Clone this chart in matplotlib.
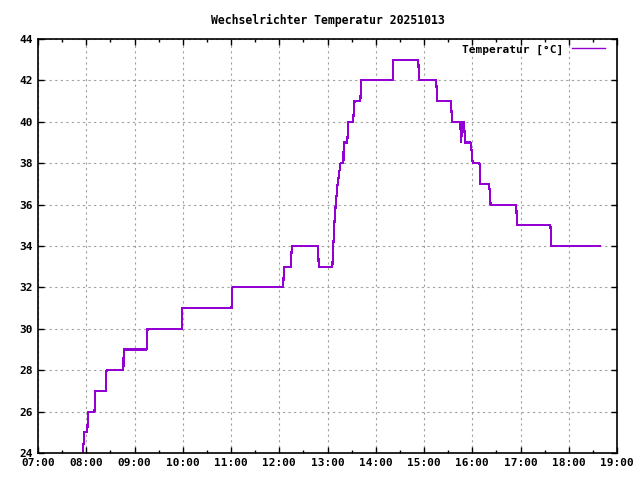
import matplotlib
matplotlib.use("Agg")
import matplotlib.pyplot as plt
from matplotlib.ticker import MultipleLocator

# time of day in hours, temperature in degC
hours = [7.93, 7.96, 8.02, 8.04, 8.17, 8.19, 8.40, 8.42, 8.77, 8.775,
         9.25, 9.27, 9.98, 9.985, 11.01, 11.03, 12.08, 12.10, 12.24, 12.26,
         12.80, 12.82, 13.10, 13.12, 13.14, 13.17, 13.21, 13.27, 13.33, 13.335,
         13.41, 13.43, 13.53, 13.56, 13.68, 13.70, 14.35, 14.355, 14.88, 14.90,
         15.25, 15.28, 15.56, 15.58, 15.75, 15.77, 15.79, 15.83, 15.85, 15.97,
         16.01, 16.15, 16.17, 16.35, 16.38, 16.91, 16.93, 17.62, 17.64, 18.64]
temps = [24, 25, 25, 26, 26, 27, 27, 28, 28, 29,
         29, 30, 30, 31, 31, 32, 32, 33, 33, 34,
         34, 33, 33, 34, 35, 36, 37, 38, 38, 39,
         39, 40, 40, 41, 41, 42, 42, 43, 43, 42,
         42, 41, 41, 40, 40, 39, 40, 40, 39, 39,
         38, 38, 37, 37, 36, 36, 35, 35, 34, 34]

x_ticks = list(range(7, 20))
x_labels = ["%02d:00" % h for h in x_ticks]
y_ticks = list(range(24, 45, 2))

plt.rcParams["font.family"] = "DejaVu Sans Mono"
plt.rcParams["font.weight"] = "bold"
plt.rcParams["font.size"] = 8

fig = plt.figure(figsize=(6.4, 4.8), dpi=100)
ax = fig.add_axes([38 / 640, 1 - 453 / 480, (617 - 38) / 640, (453 - 39) / 480])

ax.plot(hours, temps, color="#9400d3", lw=0.8, label="Temperatur [°C]",
        antialiased=False)

ax.set_xlim(7, 19)
ax.set_ylim(24, 44)
ax.set_xticks(x_ticks)
ax.set_xticklabels(x_labels)
ax.set_yticks(y_ticks)
ax.xaxis.set_minor_locator(MultipleLocator(0.5))

ax.grid(True, which="major", color="#a0a0a0", linestyle=(0, (2, 3)), lw=0.8)
ax.tick_params(which="both", direction="in", top=True, right=True, width=1)
ax.tick_params(which="major", length=4)
ax.tick_params(which="minor", length=2.5)
for s in ax.spines.values():
    s.set_linewidth(1.2)

ax.set_title("Wechselrichter Temperatur 20251013", fontsize=8.3, fontweight="bold", pad=10.5)
leg = ax.legend(loc="upper right", bbox_to_anchor=(0.993, 1.006), frameon=False,
                markerfirst=False, handlelength=3.0, borderaxespad=0.3,
                prop={"size": 8, "weight": "bold"})
for h in leg.get_lines():
    h.set_antialiased(True)
    h.set_linewidth(1.0)

fig.savefig("out.png", dpi=100)
